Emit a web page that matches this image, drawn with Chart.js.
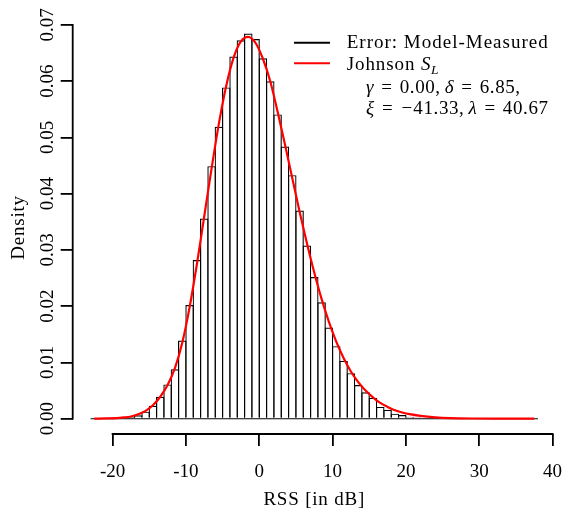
<!DOCTYPE html>
<html><head><meta charset="utf-8">
<script src="https://cdn.jsdelivr.net/npm/chart.js@4/dist/chart.umd.min.js"></script>
<style>html,body{margin:0;padding:0;background:#fff}canvas{display:block}</style>
</head><body>
<canvas id="c" width="565" height="510"></canvas>
<script>
// ---- data ----
const binCenters = [-22.5,-21.5,-20.5,-19.5,-18.5,-17.5,-16.5,-15.5,-14.5,-13.5,-12.5,-11.5,-10.5,-9.5,-8.5,-7.5,-6.5,-5.5,-4.5,-3.5,-2.5,-1.5,-0.5,0.5,1.5,2.5,3.5,4.5,5.5,6.5,7.5,8.5,9.5,10.5,11.5,12.5,13.5,14.5,15.5,16.5,17.5,18.5,19.5,20.5,21.5,22.5,23.5,24.5,25.5,26.5,27.5,28.5,29.5,30.5,31.5,32.5,33.5,34.5,35.5,36.5,37.5];
const densities = [0,0,0,0,0,0.0003,0.0006,0.00125,0.0023,0.0039,0.0061,0.0088,0.0139,0.0202,0.0282,0.0356,0.0449,0.0519,0.0589,0.0644,0.0673,0.0685,0.0675,0.0641,0.0600,0.0541,0.0484,0.0433,0.0370,0.0308,0.0252,0.0207,0.0162,0.0129,0.0103,0.0081,0.0060,0.0047,0.0037,0.0021,0.0016,0.0009,0.00066,0.00036,0.00024,0.00015,0,0,0,0,0,0,0,0,0,0,0,0,0,0,0];
const breaksRange = [-23, 38];
const curveX = [-22.5,-21,-19.5,-18.5,-17.5,-16.5,-15.5,-14.5,-13.5,-12.5,-11.5,-10.5,-9.5,-8.5,-7.5,-6.5,-5.5,-4.5,-3.5,-2.5,-1.5,-0.5,0.5,1.5,2.5,3.5,4.5,5.5,6.5,7.5,8.5,9.5,10.5,11.5,12.5,13.5,14.5,15.5,16.5,17.5,18.5,19.5,20.5,22,24,26,29,33,37.5];
const curveY = [0,0.00005,0.0001,0.00022,0.0004,0.0008,0.0014,0.0024,0.0039,0.0060,0.0090,0.0135,0.0198,0.0275,0.0360,0.0445,0.0525,0.0592,0.0642,0.0671,0.0679,0.0668,0.0640,0.0600,0.0546,0.0488,0.0428,0.0368,0.0312,0.0260,0.0213,0.0172,0.0137,0.0108,0.0084,0.0065,0.0050,0.0038,0.0028,0.0021,0.0015,0.0011,0.0008,0.0005,0.00025,0.00012,0.00004,0.00001,0];
const xTicks = [-20,-10,0,10,20,30,40];
const xTickLabels = ['-20','-10','0','10','20','30','40'];
const yTicks = [0,0.01,0.02,0.03,0.04,0.05,0.06,0.07];
const yTickLabels = ['0.00','0.01','0.02','0.03','0.04','0.05','0.06','0.07'];
const xTitle = 'RSS [in dB]';
const yTitle = 'Density';
const legendSeries = ['Error: Model-Measured', 'Johnson '];

const FONT = '"Liberation Serif", "Times New Roman", serif';

function drawRuns(ctx, x, y, runs) {
  let cx = x;
  for (const r of runs) {
    if (r.gap) { cx += r.gap; continue; }
    ctx.font = r.f;
    ctx.letterSpacing = r.ls || '0px';
    const w = ctx.measureText(r.t).width;
    ctx.textAlign = 'left';
    if (r.w) {
      ctx.fillText(r.t, cx + (r.w - w) / 2, y + (r.dy || 0));
      cx += r.w;
    } else {
      ctx.fillText(r.t, cx, y + (r.dy || 0));
      cx += w;
    }
  }
  ctx.letterSpacing = '0px';
  return cx;
}

const axesPlugin = {
  id: 'rAxes',
  afterDraw(chart) {
    const ctx = chart.ctx;
    const xs = chart.scales.x, ys = chart.scales.y;
    const ca = chart.chartArea;
    ctx.save();
    ctx.strokeStyle = '#000';
    ctx.fillStyle = '#000';
    ctx.lineWidth = 1.8;
    ctx.lineCap = 'square';
    // y axis line
    ctx.beginPath();
    ctx.moveTo(ca.left, ys.getPixelForValue(yTicks[0]));
    ctx.lineTo(ca.left, ys.getPixelForValue(yTicks[yTicks.length - 1]));
    ctx.stroke();
    // x axis line
    ctx.beginPath();
    ctx.moveTo(xs.getPixelForValue(xTicks[0]), ca.bottom);
    ctx.lineTo(xs.getPixelForValue(xTicks[xTicks.length - 1]), ca.bottom);
    ctx.stroke();

    // x tick labels
    ctx.font = '19px ' + FONT;
    ctx.textAlign = 'center';
    ctx.textBaseline = 'alphabetic';
    xTicks.forEach((v, i) => ctx.fillText(xTickLabels[i], xs.getPixelForValue(v), 477));
    // y tick labels (rotated)
    yTicks.forEach((v, i) => {
      ctx.save();
      ctx.translate(53, ys.getPixelForValue(v));
      ctx.rotate(-Math.PI / 2);
      ctx.textAlign = 'center';
      ctx.fillText(yTickLabels[i], 0, 0);
      ctx.restore();
    });
    // axis titles
    ctx.letterSpacing = '0.8px';
    ctx.textAlign = 'center';
    ctx.fillText(xTitle, (ca.left + ca.right) / 2, 505);
    ctx.save();
    ctx.translate(24, (ca.top + ca.bottom) / 2);
    ctx.rotate(-Math.PI / 2);
    ctx.fillText(yTitle, 0, 0);
    ctx.restore();
    ctx.letterSpacing = '0px';

    // legend
    ctx.lineCap = 'butt';
    ctx.lineWidth = 2;
    ctx.strokeStyle = '#000';
    ctx.beginPath(); ctx.moveTo(294, 42.7); ctx.lineTo(330, 42.7); ctx.stroke();
    ctx.strokeStyle = '#ff0000';
    ctx.beginPath(); ctx.moveTo(294, 63.3); ctx.lineTo(330, 63.3); ctx.stroke();
    const up = '19px ' + FONT, it = 'italic 19px ' + FONT, sub = 'italic 13.5px ' + FONT;
    drawRuns(ctx, 346.7, 48.3, [{t: legendSeries[0], f: up, ls: '1px'}]);
    drawRuns(ctx, 346.7, 70, [{t: legendSeries[1], f: up, ls: '0.9px'}, {t: 'S', f: it}, {gap: 0.5}, {t: 'L', f: sub, dy: 3.5}]);
    const eq = {t: '=', f: up, w: 15};
    drawRuns(ctx, 366, 92.7, [{t: 'γ', f: it}, {gap: 5.6}, eq, {gap: 5.6}, {t: '0.00,', f: up, ls: '0.6px'}, {gap: 4},
      {t: 'δ', f: it}, {gap: 5.6}, eq, {gap: 5.6}, {t: '6.85,', f: up, ls: '0.6px'}]);
    drawRuns(ctx, 366, 114.3, [{t: 'ξ', f: it}, {gap: 5.6}, eq, {gap: 5.6}, {t: '−', f: up, w: 13}, {t: '41.33,', f: up, ls: '0.6px'}, {gap: 4},
      {t: 'λ', f: it}, {gap: 5.6}, eq, {gap: 5.6}, {t: '40.67', f: up, ls: '0.6px'}]);
    ctx.restore();
  }
};

const gridOpts = {drawOnChartArea: false, drawTicks: true, tickLength: 12, color: '#000', lineWidth: 1.8};
const barBorder = 1.2;

new Chart(document.getElementById('c'), {
  type: 'bar',
  data: {
    datasets: [
      {
        type: 'line', label: 'Johnson SL', order: 0,
        data: curveX.map((x, i) => ({x, y: curveY[i]})),
        borderColor: '#ff0000', borderWidth: 2.2, pointRadius: 0, fill: false,
        cubicInterpolationMode: 'monotone'
      },
      {
        type: 'line', label: 'baseline', order: 1,
        data: breaksRange.map(x => ({x, y: 0})),
        borderColor: '#000', borderWidth: 1.1, pointRadius: 0, fill: false
      },
      {
        type: 'bar', label: 'Error: Model-Measured', order: 2,
        data: binCenters.map((x, i) => ({x, y: densities[i]})),
        backgroundColor: 'rgba(0,0,0,0)', borderColor: '#000', borderWidth: barBorder,
        borderSkipped: 'start', inflateAmount: 0,
        barPercentage: (7.333 + barBorder) / 7.333, categoryPercentage: 1
      }
    ]
  },
  options: {
    responsive: false, animation: false, devicePixelRatio: 1,
    layout: {padding: {left: 0, top: 21, right: 9.2, bottom: 0}},
    plugins: {legend: {display: false}, tooltip: {enabled: false}},
    scales: {
      x: {
        type: 'linear', position: 'bottom', min: -25.44, max: 40.44, offset: false,
        grid: Object.assign({offset: false}, gridOpts), border: {display: false},
        ticks: {display: false},
        afterBuildTicks: s => { s.ticks = xTicks.map(v => ({value: v})); },
        afterFit: s => { s.height = 76; }
      },
      y: {
        type: 'linear', position: 'left', min: -0.00272, max: 0.07071,
        grid: gridOpts, border: {display: false},
        ticks: {display: false},
        afterBuildTicks: s => { s.ticks = yTicks.map(v => ({value: v})); },
        afterFit: s => { s.width = 72.7; }
      }
    }
  },
  plugins: [axesPlugin]
});
</script>
</body></html>
